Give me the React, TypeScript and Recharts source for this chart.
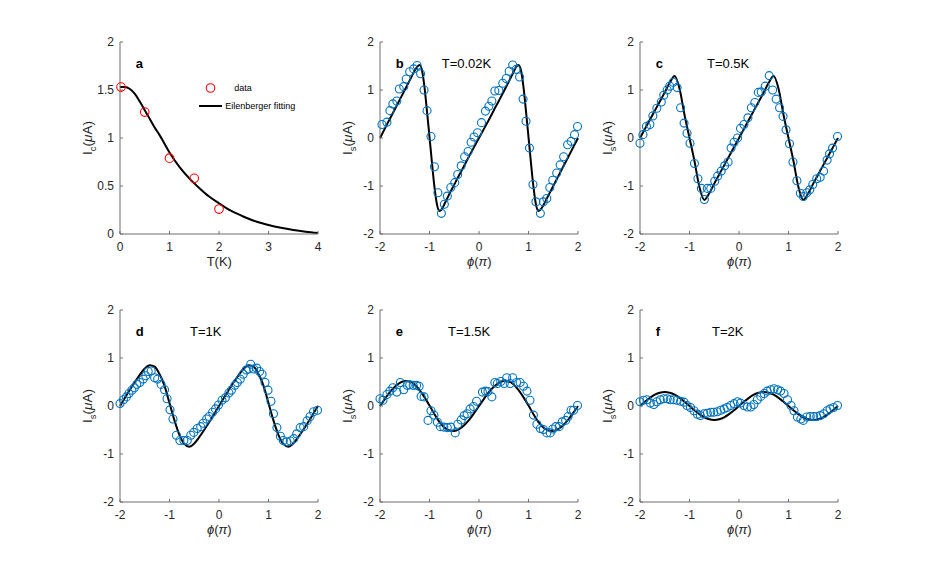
import React from 'react';
import { ComposedChart, Scatter, Line, XAxis, YAxis, Legend } from 'recharts';

// panel a: critical current vs temperature
const tData = [0.02, 0.5, 1, 1.5, 2];
const icData = [1.53, 1.27, 0.79, 0.58, 0.26];
const tFit = [0, 0.1, 0.2, 0.3, 0.4, 0.5, 0.6, 0.7, 0.8, 0.9, 1.0, 1.2, 1.4, 1.6, 1.8, 2.0, 2.25, 2.5, 2.75, 3.0, 3.25, 3.5, 3.75, 4.0];
const icFit = [1.53, 1.53, 1.51, 1.46, 1.38, 1.29, 1.2, 1.11, 1.03, 0.94, 0.85, 0.7, 0.58, 0.48, 0.39, 0.32, 0.24, 0.18, 0.13, 0.094, 0.065, 0.042, 0.024, 0.01];
const tTicks = [0, 1, 2, 3, 4];
const icTicks = [0, 0.5, 1, 1.5, 2];

// panels b-f: current-phase relation
const phiTicks = [-2, -1, 0, 1, 2];
const isTicks = [-2, -1, 0, 1, 2];

const phiB = [-1.96, -1.86, -1.8, -1.74, -1.66, -1.61, -1.52, -1.47, -1.4, -1.32, -1.25, -1.18, -1.11, -1.05, -0.97, -0.9, -0.83, -0.76, -0.7, -0.64, -0.57, -0.49, -0.43, -0.36, -0.29, -0.22, -0.16, -0.1, -0.03, 0.05, 0.13, 0.2, 0.26, 0.32, 0.4, 0.48, 0.55, 0.61, 0.68, 0.75, 0.82, 0.89, 0.95, 1.02, 1.09, 1.15, 1.24, 1.3, 1.37, 1.43, 1.49, 1.57, 1.64, 1.71, 1.79, 1.86, 1.93, 1.99];
const isB = [0.28, 0.33, 0.57, 0.71, 0.77, 1.02, 1.07, 1.23, 1.38, 1.44, 1.51, 1.34, 1.0, 0.57, 0.03, -0.6, -1.14, -1.57, -1.38, -1.21, -1.03, -0.93, -0.76, -0.58, -0.39, -0.28, -0.09, 0.02, 0.11, 0.32, 0.56, 0.66, 0.77, 0.98, 0.99, 1.14, 1.24, 1.39, 1.52, 1.43, 1.27, 0.81, 0.35, -0.21, -0.97, -1.33, -1.57, -1.33, -1.26, -1.03, -0.88, -0.73, -0.56, -0.39, -0.14, -0.07, 0.07, 0.24];
const phiBFit = [-2, -1.9, -1.8, -1.7, -1.6, -1.5, -1.4, -1.3, -1.25, -1.2, -1.15, -1.1, -1.05, -1.0, -0.95, -0.9, -0.85, -0.8, -0.75, -0.7, -0.6, -0.5, -0.4, -0.3, -0.2, -0.1, 0, 0.1, 0.2, 0.3, 0.4, 0.5, 0.6, 0.7, 0.75, 0.8, 0.85, 0.9, 0.95, 1.0, 1.05, 1.1, 1.15, 1.2, 1.25, 1.3, 1.4, 1.5, 1.6, 1.7, 1.8, 1.9, 2.0];
const isBFit = [0, 0.2, 0.4, 0.6, 0.8, 1.0, 1.2, 1.4, 1.48, 1.52, 1.4, 1.05, 0.55, 0.02, -0.52, -1.02, -1.38, -1.52, -1.48, -1.38, -1.17, -0.97, -0.77, -0.58, -0.38, -0.19, 0, 0.19, 0.38, 0.58, 0.77, 0.97, 1.17, 1.38, 1.48, 1.52, 1.4, 1.05, 0.55, 0.02, -0.52, -1.02, -1.38, -1.52, -1.48, -1.4, -1.2, -1.0, -0.8, -0.6, -0.4, -0.2, 0];

const phiC = [-2.0, -1.94, -1.87, -1.8, -1.74, -1.66, -1.57, -1.52, -1.45, -1.4, -1.33, -1.25, -1.18, -1.11, -1.05, -0.99, -0.9, -0.83, -0.76, -0.7, -0.64, -0.57, -0.49, -0.43, -0.36, -0.29, -0.22, -0.16, -0.1, -0.03, 0.03, 0.1, 0.18, 0.25, 0.32, 0.39, 0.45, 0.53, 0.61, 0.68, 0.75, 0.82, 0.89, 0.95, 1.02, 1.09, 1.17, 1.24, 1.3, 1.37, 1.43, 1.49, 1.57, 1.64, 1.71, 1.78, 1.83, 1.89, 1.99];
const isC = [-0.11, 0.07, 0.24, 0.28, 0.46, 0.62, 0.75, 0.89, 1.0, 1.08, 1.16, 1.05, 0.63, 0.31, 0.1, -0.11, -0.53, -0.85, -1.05, -1.28, -1.05, -1.05, -0.9, -0.79, -0.69, -0.58, -0.5, -0.21, -0.09, 0.0, 0.2, 0.28, 0.42, 0.63, 0.74, 0.95, 0.96, 1.08, 1.3, 1.0, 0.81, 0.63, 0.45, 0.17, -0.12, -0.5, -0.89, -1.15, -1.22, -1.14, -1.08, -0.97, -0.85, -0.82, -0.69, -0.46, -0.33, -0.21, 0.03];

const phiD = [-2.0, -1.93, -1.87, -1.82, -1.76, -1.71, -1.66, -1.6, -1.53, -1.48, -1.43, -1.37, -1.3, -1.24, -1.17, -1.1, -1.05, -0.99, -0.93, -0.86, -0.79, -0.71, -0.64, -0.57, -0.51, -0.44, -0.37, -0.32, -0.25, -0.2, -0.13, -0.07, -0.01, 0.06, 0.13, 0.2, 0.25, 0.32, 0.37, 0.43, 0.49, 0.55, 0.6, 0.64, 0.7, 0.76, 0.82, 0.87, 0.93, 0.99, 1.05, 1.1, 1.17, 1.24, 1.3, 1.37, 1.44, 1.51, 1.57, 1.64, 1.71, 1.78, 1.84, 1.91, 1.99];
const isD = [0.05, 0.13, 0.19, 0.26, 0.33, 0.38, 0.45, 0.49, 0.56, 0.63, 0.72, 0.73, 0.59, 0.56, 0.45, 0.34, 0.15, -0.08, -0.27, -0.61, -0.72, -0.72, -0.72, -0.61, -0.55, -0.47, -0.43, -0.36, -0.27, -0.22, -0.13, -0.06, 0.02, 0.12, 0.17, 0.27, 0.33, 0.43, 0.49, 0.56, 0.66, 0.75, 0.77, 0.87, 0.77, 0.79, 0.72, 0.66, 0.49, 0.33, 0.1, -0.16, -0.45, -0.63, -0.72, -0.75, -0.73, -0.68, -0.58, -0.45, -0.43, -0.31, -0.22, -0.12, -0.09];

const phiE = [-2.0, -1.94, -1.86, -1.8, -1.74, -1.66, -1.59, -1.52, -1.45, -1.4, -1.33, -1.26, -1.21, -1.17, -1.11, -1.03, -0.97, -0.91, -0.84, -0.78, -0.71, -0.64, -0.57, -0.48, -0.43, -0.36, -0.3, -0.24, -0.18, -0.11, -0.05, 0.07, 0.13, 0.18, 0.26, 0.32, 0.37, 0.44, 0.51, 0.56, 0.63, 0.68, 0.76, 0.83, 0.9, 0.97, 1.03, 1.1, 1.17, 1.24, 1.3, 1.37, 1.44, 1.49, 1.55, 1.62, 1.68, 1.75, 1.8, 1.86, 1.91, 1.99];
const isE = [0.15, 0.12, 0.24, 0.31, 0.38, 0.29, 0.49, 0.34, 0.43, 0.44, 0.43, 0.43, 0.41, 0.2, 0.19, -0.3, -0.1, -0.19, -0.34, -0.43, -0.44, -0.45, -0.44, -0.56, -0.38, -0.29, -0.2, -0.16, -0.06, -0.01, 0.1, 0.29, 0.31, 0.3, 0.19, 0.49, 0.47, 0.51, 0.47, 0.59, 0.47, 0.59, 0.49, 0.49, 0.41, 0.31, 0.12, -0.19, -0.38, -0.47, -0.49, -0.56, -0.56, -0.48, -0.43, -0.43, -0.33, -0.3, -0.22, -0.09, -0.09, 0.01];

const phiF = [-2.0, -1.93, -1.86, -1.79, -1.72, -1.66, -1.59, -1.52, -1.45, -1.39, -1.32, -1.25, -1.18, -1.11, -1.05, -0.98, -0.91, -0.84, -0.78, -0.71, -0.64, -0.57, -0.51, -0.44, -0.37, -0.3, -0.24, -0.17, -0.1, -0.03, 0.03, 0.1, 0.17, 0.24, 0.3, 0.37, 0.44, 0.51, 0.57, 0.64, 0.71, 0.78, 0.84, 0.91, 0.98, 1.05, 1.11, 1.18, 1.25, 1.3, 1.37, 1.44, 1.51, 1.57, 1.64, 1.71, 1.78, 1.84, 1.91, 1.99];
const isF = [0.09, 0.12, 0.13, 0.06, 0.03, 0.09, 0.13, 0.15, 0.15, 0.13, 0.13, 0.12, 0.1, 0.08, 0.01, -0.03, -0.1, -0.17, -0.2, -0.16, -0.15, -0.13, -0.13, -0.12, -0.09, -0.06, -0.03, 0.01, 0.05, 0.09, 0.06, 0.01, -0.02, -0.02, 0.03, 0.13, 0.2, 0.26, 0.31, 0.34, 0.36, 0.34, 0.31, 0.26, 0.13, 0.01, -0.1, -0.23, -0.27, -0.3, -0.23, -0.22, -0.22, -0.22, -0.2, -0.16, -0.1, -0.06, -0.03, 0.01];

// fitted curves for c-f share one phase grid
const phiGrid = [-2, -1.9, -1.8, -1.7, -1.6, -1.5, -1.4, -1.3, -1.2, -1.1, -1, -0.9, -0.8, -0.7, -0.6, -0.5, -0.4, -0.3, -0.2, -0.1, 0, 0.1, 0.2, 0.3, 0.4, 0.5, 0.6, 0.7, 0.8, 0.9, 1, 1.1, 1.2, 1.3, 1.4, 1.5, 1.6, 1.7, 1.8, 1.9, 2];
const isCFit = [0, 0.19, 0.38, 0.57, 0.76, 0.95, 1.15, 1.29, 1.02, 0.48, 0, -0.48, -1.02, -1.29, -1.15, -0.95, -0.76, -0.57, -0.38, -0.19, 0, 0.19, 0.38, 0.57, 0.76, 0.95, 1.15, 1.29, 1.02, 0.48, 0, -0.48, -1.02, -1.29, -1.15, -0.95, -0.76, -0.57, -0.38, -0.19, 0];
const isDFit = [0, 0.17, 0.34, 0.5, 0.65, 0.78, 0.85, 0.82, 0.66, 0.42, 0.06, -0.3, -0.6, -0.79, -0.85, -0.78, -0.65, -0.5, -0.34, -0.17, 0, 0.17, 0.34, 0.5, 0.65, 0.78, 0.85, 0.82, 0.66, 0.42, 0.06, -0.3, -0.6, -0.79, -0.85, -0.78, -0.65, -0.5, -0.34, -0.17, 0];
const isEFit = [0, 0.15, 0.29, 0.4, 0.48, 0.52, 0.51, 0.45, 0.33, 0.18, 0.01, -0.17, -0.33, -0.45, -0.51, -0.52, -0.48, -0.4, -0.29, -0.15, 0, 0.15, 0.29, 0.4, 0.48, 0.52, 0.51, 0.45, 0.33, 0.18, 0.01, -0.17, -0.33, -0.45, -0.51, -0.52, -0.48, -0.4, -0.29, -0.15, 0];
const isFFit = [0, 0.09, 0.17, 0.235, 0.275, 0.29, 0.275, 0.235, 0.17, 0.09, 0, -0.09, -0.17, -0.235, -0.275, -0.29, -0.275, -0.235, -0.17, -0.09, 0, 0.09, 0.17, 0.235, 0.275, 0.29, 0.275, 0.235, 0.17, 0.09, 0, -0.09, -0.17, -0.235, -0.275, -0.29, -0.275, -0.235, -0.17, -0.09, 0];

const FONT = '"Liberation Sans", Arial, Helvetica, sans-serif';
const AX = '#6e6e6e';
const TXT = '#262626';
const BLUE = '#0072BD';
const RED = '#FF0000';

const W = 198;
const H = 192;
const ML = 50;
const MT = 10;

type Pt = { x: number; y: number };
const zip = (xs: number[], ys: number[]): Pt[] => xs.map((x, i) => ({ x, y: ys[i] }));

// markers first, then the fitted line, like the original legend
const renderLegend = (p: any) => {
  const items = [...(p.payload || [])].sort((a: any, b: any) => (a.type === 'line' ? 1 : 0) - (b.type === 'line' ? 1 : 0));
  return (
    <div style={{ fontFamily: FONT, fontSize: 9, color: '#000' }}>
      {items.map((e: any) => (
        <div key={e.value} style={{ display: 'flex', alignItems: 'center', height: 18 }}>
          <svg width={23} height={18}>
            {e.type === 'line' ? (
              <line x1={0} y1={9} x2={23} y2={9} stroke={e.color} strokeWidth={2} />
            ) : (
              <circle cx={11.5} cy={9} r={4.3} fill="none" stroke={e.color} strokeWidth={1.1} />
            )}
          </svg>
          <span style={{ marginLeft: e.type === 'line' ? 3 : 12 }}>{e.value}</span>
        </div>
      ))}
    </div>
  );
};

type PanelProps = {
  px: number;
  py: number;
  xDomain: [number, number];
  xTicks: number[];
  yDomain: [number, number];
  yTicks: number[];
  dots: Pt[];
  fit: Pt[];
  dotColor: string;
  dotR: number;
  tag: string;
  title?: string;
  titleDx?: number;
  xLabel: React.ReactNode;
  ySub: string;
  legend?: boolean;
};

function Panel(props: PanelProps) {
  const { px, py, xDomain, xTicks, yDomain, yTicks, dots, fit, dotColor, dotR, tag, title, titleDx, xLabel, ySub, legend } = props;
  const tickStyle = { fill: TXT, fontSize: 12, fontFamily: FONT };
  return (
    <>
      <div style={{ position: 'absolute', left: px - ML, top: py - MT }}>
        <ComposedChart width={W + ML + 10} height={H + MT + 40} margin={{ top: MT, right: 10, bottom: 0, left: 0 }}>
          <XAxis dataKey="x" type="number" domain={xDomain} ticks={xTicks} interval={0} height={40}
            tickSize={-3} tickMargin={11.5} tick={tickStyle} stroke={AX} />
          <XAxis xAxisId="t" orientation="top" mirror type="number" domain={xDomain} ticks={xTicks} interval={0}
            height={0} tick={false} tickSize={3} stroke={AX} />
          <YAxis dataKey="y" type="number" domain={yDomain} ticks={yTicks} interval={0} width={ML}
            tickSize={-3} tickMargin={9} tick={tickStyle} stroke={AX} />
          <YAxis yAxisId="r" orientation="right" mirror type="number" domain={yDomain} ticks={yTicks} interval={0}
            width={0} tick={false} tickSize={3} stroke={AX} />
          <Scatter name="data" data={dots} fill={dotColor} isAnimationActive={false}
            shape={(s: any) => <circle cx={s.cx} cy={s.cy} r={dotR} fill="none" stroke={dotColor} strokeWidth={1.1} />} />
          <Line name="Eilenberger fitting" data={fit} dataKey="y" type="monotone" stroke="#000" strokeWidth={2}
            dot={false} isAnimationActive={false} />
          {legend && (
            <Legend layout="vertical" align="center" verticalAlign="middle" content={renderLegend}
              wrapperStyle={{ left: 129, top: 47, width: 130, height: 36 }} />
          )}
        </ComposedChart>
      </div>
      <div style={{ position: 'absolute', left: px + 15.5, top: py + 21, transform: 'translateY(-50%)', fontFamily: FONT, fontSize: 13, fontWeight: 700, lineHeight: 1 }}>{tag}</div>
      {title && (
        <div style={{ position: 'absolute', left: px + (titleDx || 60), top: py + 21, transform: 'translateY(-50%)', fontFamily: FONT, fontSize: 13, lineHeight: 1, whiteSpace: 'nowrap' }}>{title}</div>
      )}
      <div style={{ position: 'absolute', left: px + W / 2, top: py + 219, transform: 'translate(-50%, -50%)', fontFamily: FONT, fontSize: 13, color: TXT, lineHeight: 1, whiteSpace: 'nowrap' }}>{xLabel}</div>
      <div style={{ position: 'absolute', left: px - 31, top: py + H / 2, transform: 'translate(-50%, -50%) rotate(-90deg)', fontFamily: FONT, fontSize: 13.5, color: TXT, lineHeight: 1, whiteSpace: 'nowrap' }}>
        I<sub style={{ fontSize: '0.7em' }}>{ySub}</sub>(<i>μ</i>A)
      </div>
    </>
  );
}

const phiLabel = (
  <span><i>ϕ</i>(<i>π</i>)</span>
);

export default function App() {
  const col = [120.3, 380.3, 640.3];
  const row = [42.3, 310];
  const phiDom: [number, number] = [-2, 2];
  return (
    <div style={{ position: 'absolute', left: 0, top: 0, width: 926, height: 564, background: '#fff', overflow: 'hidden' }}>
      <Panel px={col[0]} py={row[0]} xDomain={[0, 4]} xTicks={tTicks} yDomain={[0, 2]} yTicks={icTicks}
        dots={zip(tData, icData)} fit={zip(tFit, icFit)} dotColor={RED} dotR={4.3} tag="a" xLabel="T(K)" ySub="c" legend />
      <Panel px={col[1]} py={row[0]} xDomain={phiDom} xTicks={phiTicks} yDomain={[-2, 2]} yTicks={isTicks}
        dots={zip(phiB, isB)} fit={zip(phiBFit, isBFit)} dotColor={BLUE} dotR={4} tag="b" title="T=0.02K" titleDx={61.4} xLabel={phiLabel} ySub="s" />
      <Panel px={col[2]} py={row[0]} xDomain={phiDom} xTicks={phiTicks} yDomain={[-2, 2]} yTicks={isTicks}
        dots={zip(phiC, isC)} fit={zip(phiGrid, isCFit)} dotColor={BLUE} dotR={4} tag="c" title="T=0.5K" titleDx={66.7} xLabel={phiLabel} ySub="s" />
      <Panel px={col[0]} py={row[1]} xDomain={phiDom} xTicks={phiTicks} yDomain={[-2, 2]} yTicks={isTicks}
        dots={zip(phiD, isD)} fit={zip(phiGrid, isDFit)} dotColor={BLUE} dotR={4} tag="d" title="T=1K" titleDx={69.7} xLabel={phiLabel} ySub="s" />
      <Panel px={col[1]} py={row[1]} xDomain={phiDom} xTicks={phiTicks} yDomain={[-2, 2]} yTicks={isTicks}
        dots={zip(phiE, isE)} fit={zip(phiGrid, isEFit)} dotColor={BLUE} dotR={4} tag="e" title="T=1.5K" titleDx={67.7} xLabel={phiLabel} ySub="s" />
      <Panel px={col[2]} py={row[1]} xDomain={phiDom} xTicks={phiTicks} yDomain={[-2, 2]} yTicks={isTicks}
        dots={zip(phiF, isF)} fit={zip(phiGrid, isFFit)} dotColor={BLUE} dotR={4} tag="f" title="T=2K" titleDx={71.7} xLabel={phiLabel} ySub="s" />
    </div>
  );
}
